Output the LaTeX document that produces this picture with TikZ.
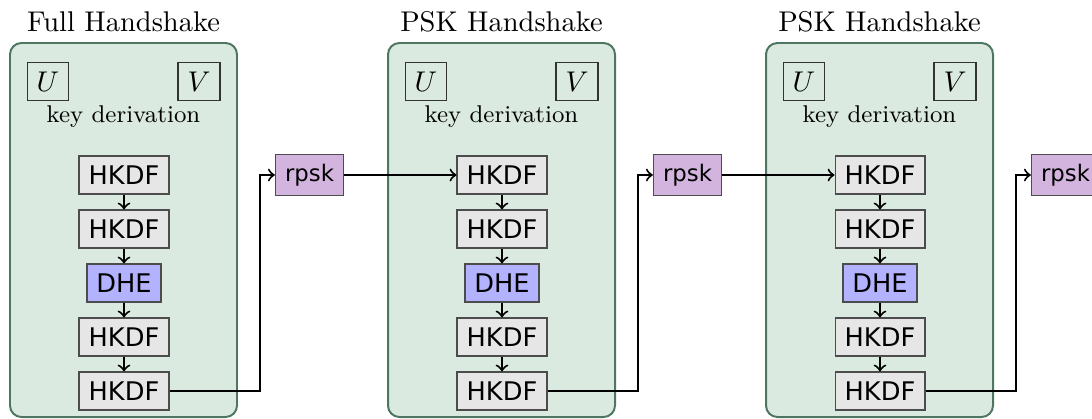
\documentclass[tikz,border=0pt]{standalone}
\usepackage{fontspec}
\newfontfamily\dejavu{DejaVu Sans}
\definecolor{cfill}{RGB}{219,234,224}
\definecolor{cdraw}{RGB}{78,118,96}
\definecolor{kfill}{RGB}{230,230,230}
\definecolor{dfill}{RGB}{178,178,255}
\definecolor{rfill}{RGB}{210,180,222}
\begin{document}
\begin{tikzpicture}[x=0.3509pt,y=-0.3509pt,
 container/.style={draw=cdraw, fill=cfill, line width=0.7pt, rounded corners=4pt},
 kbox/.style={draw=black!70, fill=kfill, font=\dejavu\fontsize{9}{11}\selectfont, inner sep=3.33pt, line width=0.5pt},
 dbox/.style={kbox, fill=dfill},
 rbox/.style={draw=black!70, fill=rfill, font=\dejavu\fontsize{8}{10}\selectfont, inner sep=3.33pt, line width=0.5pt},
 vbox/.style={draw=black!80, inner sep=3.33pt, line width=0.5pt},
 title/.style={font=\fontsize{10}{12}\selectfont, anchor=base},
 kdlabel/.style={font=\fontsize{8.5}{10}\selectfont, anchor=base},
 conn/.style={->, line width=0.7pt}
]
\useasboundingbox (0,0) rectangle (1092,419);
\foreach \i/\t in {0/Full Handshake,1/PSK Handshake,2/PSK Handshake}{
  \pgfmathsetmacro\ox{378*\i}
  \path[container] (\ox+10,43) rectangle (\ox+237,417);
  \node[title] (t\i) at (\ox+123.5,31) {\t};
  \node[vbox] (u\i) at (\ox+48,81.5) {$U$};
  \node[vbox] (v\i) at (\ox+199,81.5) {$V$};
  \node[kdlabel] (kd\i) at (\ox+123.5,122) {key derivation};
  \node[kbox] (a\i) at (\ox+124,175) {HKDF};
  \node[kbox] (b\i) at (\ox+124,229) {HKDF};
  \node[dbox] (d\i) at (\ox+124,283) {DHE};
  \node[kbox] (e\i) at (\ox+124,337) {HKDF};
  \node[kbox] (f\i) at (\ox+124,391) {HKDF};
  \draw[conn] (a\i) -- (b\i);
  \draw[conn] (b\i) -- (d\i);
  \draw[conn] (d\i) -- (e\i);
  \draw[conn] (e\i) -- (f\i);
  \node[rbox] (r\i) at (\ox+309.5,175) {rpsk};
  \coordinate (k\i) at (\ox+260,391);
  \draw[conn] (f\i.east) -- (k\i) |- (r\i.west);
}
\draw[conn] (r0.east) -- (a1.west);
\draw[conn] (r1.east) -- (a2.west);
\end{tikzpicture}
\end{document}
